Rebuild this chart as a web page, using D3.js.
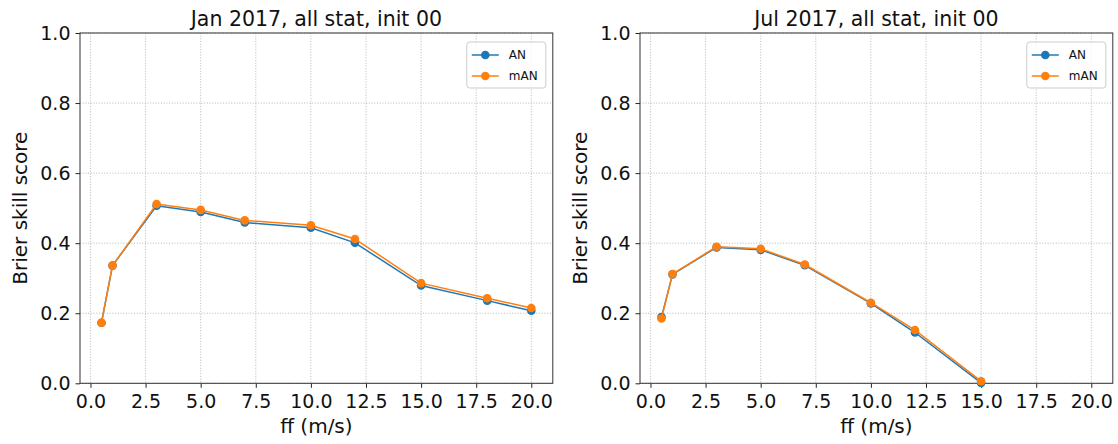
<!DOCTYPE html>
<html>
<head>
<meta charset="utf-8">
<script src="https://cdn.jsdelivr.net/npm/d3@7"></script>
<style>
  html, body { margin: 0; padding: 0; background: #fff; }
  svg { display: block; font-family: "DejaVu Sans", sans-serif; }
</style>
</head>
<body>
<svg id="chart" width="1118" height="444"></svg>
<script>
// Wind speed thresholds (m/s) and Brier skill scores per month
const windJan = [0.5, 1, 3, 5, 7, 10, 12, 15, 18, 20];
const anJan   = [0.173, 0.336, 0.507, 0.489, 0.459, 0.444, 0.401, 0.279, 0.236, 0.207];
const manJan  = [0.173, 0.336, 0.512, 0.495, 0.465, 0.451, 0.412, 0.286, 0.243, 0.215];

const windJul = [0.5, 1, 3, 5, 7, 10, 12, 15];
const anJul   = [0.189, 0.311, 0.388, 0.381, 0.337, 0.228, 0.145, 0.001];
const manJul  = [0.185, 0.312, 0.390, 0.384, 0.339, 0.230, 0.152, 0.006];

const xTicks = [0, 2.5, 5, 7.5, 10, 12.5, 15, 17.5, 20];
const yTicks = [0, 0.2, 0.4, 0.6, 0.8, 1.0];
const seriesNames = ["AN", "mAN"];
const seriesColors = ["#1f77b4", "#ff7f0e"];

const panels = [
  { title: "Jan 2017, all stat, init 00", x: windJan, series: [anJan, manJan], left: 80 },
  { title: "Jul 2017, all stat, init 00", x: windJul, series: [anJul, manJul], left: 640 }
];

const svg = d3.select("#chart");
const plotTop = 33, plotH = 350.3, plotW = 472.8;

panels.forEach(p => {
  const g = svg.append("g").attr("transform", `translate(${p.left},${plotTop})`);
  const x = d3.scaleLinear().domain([-0.475, 20.975]).range([0, plotW]);
  const y = d3.scaleLinear().domain([0, 1]).range([plotH, 0]);

  // dotted grid
  const grid = g.append("g").attr("stroke", "#b0b0b0").attr("stroke-width", 0.9)
    .attr("stroke-dasharray", "1,1.7");
  grid.selectAll("line.v").data(xTicks).join("line")
    .attr("x1", d => x(d)).attr("x2", d => x(d)).attr("y1", 0).attr("y2", plotH);
  grid.selectAll("line.h").data(yTicks).join("line")
    .attr("y1", d => y(d)).attr("y2", d => y(d)).attr("x1", 0).attr("x2", plotW);

  // axes
  const xa = g.append("g").attr("transform", `translate(0,${plotH})`)
    .call(d3.axisBottom(x).tickValues(xTicks).tickFormat(d3.format(".1f")).tickSize(4.5).tickPadding(7).tickSizeOuter(0));
  const ya = g.append("g")
    .call(d3.axisLeft(y).tickValues(yTicks).tickFormat(d3.format(".1f")).tickSize(4.5).tickPadding(5).tickSizeOuter(0));
  [xa, ya].forEach(a => {
    a.select(".domain").remove();
    a.selectAll("line").attr("stroke", "#222").attr("stroke-width", 1);
    a.selectAll("text").attr("font-size", 19).attr("fill", "#111")
      .attr("font-family", "DejaVu Sans");
  });

  // frame
  g.append("rect").attr("x", 0).attr("y", 0).attr("width", plotW).attr("height", plotH)
    .attr("fill", "none").attr("stroke", "#333").attr("stroke-width", 1);

  // series
  const line = d3.line().x(d => x(d[0])).y(d => y(d[1]));
  p.series.forEach((vals, i) => {
    const pts = p.x.map((v, k) => [v, vals[k]]);
    g.append("path").datum(pts).attr("d", line).attr("fill", "none")
      .attr("stroke", seriesColors[i]).attr("stroke-width", 1.5);
    g.append("g").selectAll("circle").data(pts).join("circle")
      .attr("cx", d => x(d[0])).attr("cy", d => y(d[1])).attr("r", 4.3)
      .attr("fill", seriesColors[i]);
  });

  // title and labels
  g.append("text").attr("x", plotW / 2).attr("y", -7).attr("text-anchor", "middle")
    .attr("font-size", 20.5).attr("fill", "#111").text(p.title);
  g.append("text").attr("x", plotW / 2).attr("y", 433 - plotTop).attr("text-anchor", "middle")
    .attr("font-size", 20).attr("fill", "#111").text("ff (m/s)");
  g.append("text").attr("transform", `translate(${-60 + 6.5},${plotH / 2}) rotate(-90)`)
    .attr("text-anchor", "middle").attr("font-size", 20).attr("fill", "#111")
    .text("Brier skill score");

  // legend
  const lg = g.append("g").attr("transform", `translate(${plotW - 86},${9})`);
  lg.append("rect").attr("width", 79).attr("height", 46).attr("rx", 3)
    .attr("fill", "#fff").attr("fill-opacity", 0.8).attr("stroke", "#cccccc");
  seriesNames.forEach((name, i) => {
    const ry = 13 + i * 21;
    lg.append("line").attr("x1", 5).attr("x2", 32).attr("y1", ry).attr("y2", ry)
      .attr("stroke", seriesColors[i]).attr("stroke-width", 1.5);
    lg.append("circle").attr("cx", 18.5).attr("cy", ry).attr("r", 4.3).attr("fill", seriesColors[i]);
    lg.append("text").attr("x", 42).attr("y", ry).attr("dy", "0.36em")
      .attr("font-size", 12).attr("fill", "#111").text(name);
  });
});
</script>
</body>
</html>
